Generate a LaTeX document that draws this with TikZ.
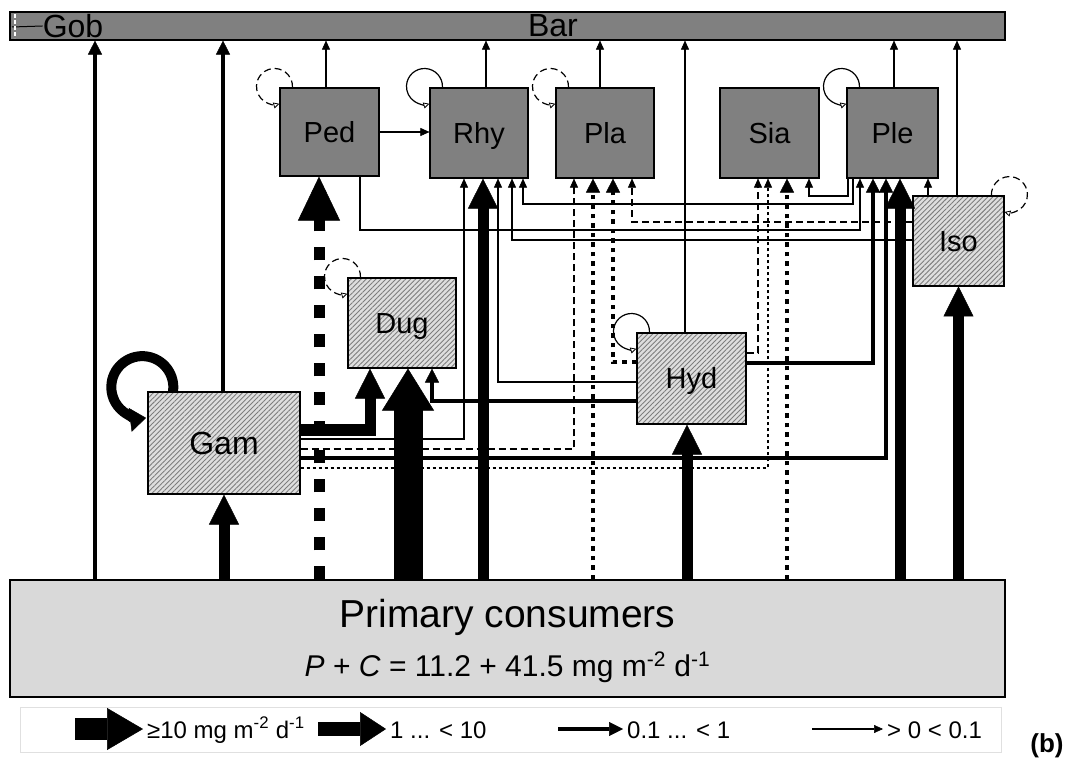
\documentclass[tikz,border=0pt]{standalone}
\usepackage{fontspec}
\setmainfont{Liberation Sans}
\usepackage{tikz}
\usetikzlibrary{arrows.meta}
\usetikzlibrary{patterns.meta}
\definecolor{boxgray}{RGB}{128,128,128}
\definecolor{primgray}{RGB}{217,217,217}
\definecolor{hatchbg}{RGB}{222,222,222}
\definecolor{hatchln}{RGB}{125,125,125}
\newcommand{\fsz}[1]{\fontsize{#1}{#1}\selectfont}

\begin{document}
\begin{tikzpicture}[x=1pt,y=1pt,
        darkbox/.style={draw,line width=1.1pt,fill=boxgray,inner sep=0pt,font=\fsz{29},text height=21pt,text depth=0pt},
        hatchbox/.style={draw,line width=1.1pt,preaction={fill=hatchbg},pattern={Lines[angle=45,distance=3.5pt,line width=0.9pt]},pattern color=hatchln,inner sep=0pt,font=\fsz{29},text height=21pt,text depth=0pt},
        hugeflow/.style={line width=29pt,-{Triangle[length=42pt,width=52pt,line width=0.5pt]}},
        bigflow/.style={line width=11pt,-{Triangle[length=30pt,width=30pt,line width=0.5pt]}},
        midflow/.style={line width=4.5pt,-{Triangle[length=14pt,width=14pt,line width=0.5pt]}},
        smallflow/.style={line width=1.2pt,-{Triangle[length=9pt,width=8pt,line width=0.5pt]}},
        loopln/.style={line width=1.2pt,-{Triangle[open,length=6pt,width=6pt,line width=0.8pt]}},
        dashln/.style={dash pattern=on 7pt off 4pt},
        dotln/.style={dash pattern=on 4.5pt off 5pt},
        fineln/.style={dash pattern=on 3pt off 3pt},
        legtext/.style={anchor=base west,font=\fsz{24},inner sep=4pt}]
        \useasboundingbox (0,0) rectangle (1068,764);
        % top bar and primary consumers
        \node[draw,line width=1.1pt,fill=boxgray,minimum width=995pt,minimum height=28pt,inner sep=0pt] (bar) at (507.5,738) {};
        \node[font=\fsz{32},inner sep=0pt] (barlbl) at (553,738) {Bar};
        \node[font=\fsz{32},inner sep=0pt] (goblbl) at (73,738) {Gob};
        \draw[line width=1pt] (12,737) -- (goblbl.west);
        \draw[white,line width=1.2pt,dash pattern=on 4pt off 2pt] (15,750) -- (15,726);
        \node[draw,line width=1.1pt,fill=primgray,minimum width=995pt,minimum height=117pt] (prim) at (507.5,125.5) {};
        \node[anchor=base,font=\fsz{39},inner sep=0pt] (primlbl) at (507.5,137) {Primary consumers};
        \node[anchor=base,font=\fsz{30},inner sep=0pt] (pclbl) at (507.5,88) {\textit{P} + \textit{C} = 11.2 + 41.5 mg m\textsuperscript{-2} d\textsuperscript{-1}};

        % compartments
        \node[darkbox,minimum width=99pt,minimum height=88pt] (ped) at (329.5,632) {Ped};
        \node[darkbox,minimum width=98pt,minimum height=90pt] (rhy) at (479,631) {Rhy};
        \node[darkbox,minimum width=98pt,minimum height=90pt] (pla) at (605,631) {Pla};
        \node[darkbox,minimum width=99pt,minimum height=90pt] (sia) at (769.5,631) {Sia};
        \node[darkbox,minimum width=91pt,minimum height=90pt] (ple) at (892.5,631) {Ple};
        \node[hatchbox,minimum width=91pt,minimum height=90pt] (iso) at (958.5,523) {Iso};
        \node[hatchbox,minimum width=108pt,minimum height=90pt] (dug) at (402,441) {Dug};
        \node[hatchbox,minimum width=152pt,minimum height=102pt,font=\fsz{32},text height=23pt] (gam) at (224,321) {Gam};
        \node[hatchbox,minimum width=109pt,minimum height=91pt] (hyd) at (691.5,385.5) {Hyd};

        % self loops
        \draw[loopln,dashln] ([xshift=13pt]ped.north west) arc[start angle=-3,end angle=286,radius=18pt];
        \draw[loopln] ([xshift=13pt]rhy.north west) arc[start angle=-3,end angle=286,radius=18pt];
        \draw[loopln,dashln] ([xshift=13pt]pla.north west) arc[start angle=-3,end angle=286,radius=18pt];
        \draw[loopln] ([xshift=13pt]ple.north west) arc[start angle=-3,end angle=286,radius=18pt];
        \draw[loopln,dashln] ([xshift=13pt]dug.north west) arc[start angle=-3,end angle=286,radius=18pt];
        \draw[loopln] ([xshift=13pt]hyd.north west) arc[start angle=-3,end angle=286,radius=18pt];
        \draw[loopln,dashln] ([xshift=-13pt]iso.north east) arc[start angle=183,end angle=-106,radius=18pt];
        \draw[line width=10pt,-{Triangle[length=16pt,width=24pt,line width=0.5pt]}] ([xshift=-51pt]gam.north) arc[start angle=-8,end angle=277,radius=31pt];

        % flows to the top predators
        \draw[midflow] (prim.north -| 95,0) -- (bar.south -| 95,0);
        \draw[midflow] (gam.north -| 223,0) -- (bar.south -| 223,0);
        \draw[smallflow] (ped.north -| 326,0) -- (bar.south -| 326,0);
        \draw[smallflow] (rhy.north -| 486,0) -- (bar.south -| 486,0);
        \draw[smallflow] (pla.north -| 600,0) -- (bar.south -| 600,0);
        \draw[smallflow] (hyd.north -| 685,0) -- (bar.south -| 685,0);
        \draw[smallflow] (ple.north -| 894,0) -- (bar.south -| 894,0);
        \draw[smallflow] (iso.north -| 957,0) -- (bar.south -| 957,0);

        % flows among compartments
        \draw[smallflow] (ped.east) -- (ped.east -| rhy.west);
        \draw[smallflow] (ped.south -| 360,0) |- (860,534) -- (ple.south -| 860,0);
        \draw[smallflow] (ple.south -| 853,0) |- (523,560) -- (rhy.south -| 523,0);
        \draw[smallflow] (ple.south -| 848,0) |- (809,568) -- (sia.south -| 809,0);
        \draw[smallflow,dashln] (iso.west |- 0,542) -| (pla.south -| 632,0);
        \draw[smallflow] (iso.west |- 0,524) -| (rhy.south -| 512,0);
        \draw[smallflow] (iso.north -| 928,0) -- (ple.south -| 928,0);

        \draw[bigflow] (gam.east |- 0,334) -| (dug.south -| 370,0);
        \draw[smallflow] (gam.east |- 0,325) -| (rhy.south -| 464,0);
        \draw[smallflow,dashln] (gam.east |- 0,315) -| (pla.south -| 574,0);
        \draw[midflow] (gam.east |- 0,306) -| (ple.south -| 886,0);
        \draw[smallflow,fineln] (gam.east |- 0,296) -| (sia.south -| 768,0);

        \draw[midflow] (hyd.west |- 0,363) -| (dug.south -| 432,0);
        \draw[smallflow] (hyd.west |- 0,382) -| (rhy.south -| 498,0);
        \draw[midflow,dotln] (hyd.west |- 0,402) -| (pla.south -| 613,0);
        \draw[midflow] (hyd.east |- 0,401) -| (ple.south -| 873,0);
        \draw[smallflow,dashln] (hyd.east |- 0,411) -| (sia.south -| 758,0);

        % flows from primary consumers
        \draw[bigflow] (prim.north -| gam.south) -- (gam.south);
        \draw[bigflow,dash pattern=on 13pt off 16pt,-{Triangle[length=44pt,width=42pt,line width=0.5pt]}] (prim.north -| 319,0) -- (ped.south -| 319,0);
        \draw[hugeflow] (prim.north -| 408,0) -- (dug.south -| 408,0);
        \draw[bigflow] (prim.north -| 483,0) -- (rhy.south -| 483,0);
        \draw[midflow,dotln] (prim.north -| 593,0) -- (pla.south -| 593,0);
        \draw[bigflow] (prim.north -| 687,0) -- (hyd.south -| 687,0);
        \draw[midflow,dotln] (prim.north -| 787,0) -- (sia.south -| 787,0);
        \draw[bigflow] (prim.north -| 900,0) -- (ple.south -| 900,0);
        \draw[bigflow] (prim.north -| iso.south) -- (iso.south);

        % legend
        \node[draw=black!12,line width=0.8pt,minimum width=981pt,minimum height=45pt] (legend) at (510.5,34.5) {};
        \node[legtext] (lgxl) at (143,26) {≥10 mg m\textsuperscript{-2} d\textsuperscript{-1}};
        \node[legtext] (lgl) at (386,26) {1 ... < 10};
        \node[legtext] (lgm) at (623,26) {0.1 ... < 1};
        \node[legtext] (lgs) at (883,26) {> 0 < 0.1};
        \coordinate (lgxla) at (75,35);
        \coordinate (lgla) at (318,35);
        \coordinate (lgma) at (558,35);
        \coordinate (lgsa) at (812,35);
        \draw[line width=22pt,-{Triangle[length=36pt,width=42pt,line width=0.5pt]}] (lgxla) -- (lgxla -| lgxl.west);
        \draw[line width=14pt,-{Triangle[length=26pt,width=34pt,line width=0.5pt]}] (lgla) -- (lgla -| lgl.west);
        \draw[midflow] (lgma) -- (lgma -| lgm.west);
        \draw[smallflow] (lgsa) -- (lgsa -| lgs.west);
        \node[font=\fsz{26}\bfseries,inner sep=0pt] (tag) at (1047,18) {(b)};
    \end{tikzpicture}
\end{document}
